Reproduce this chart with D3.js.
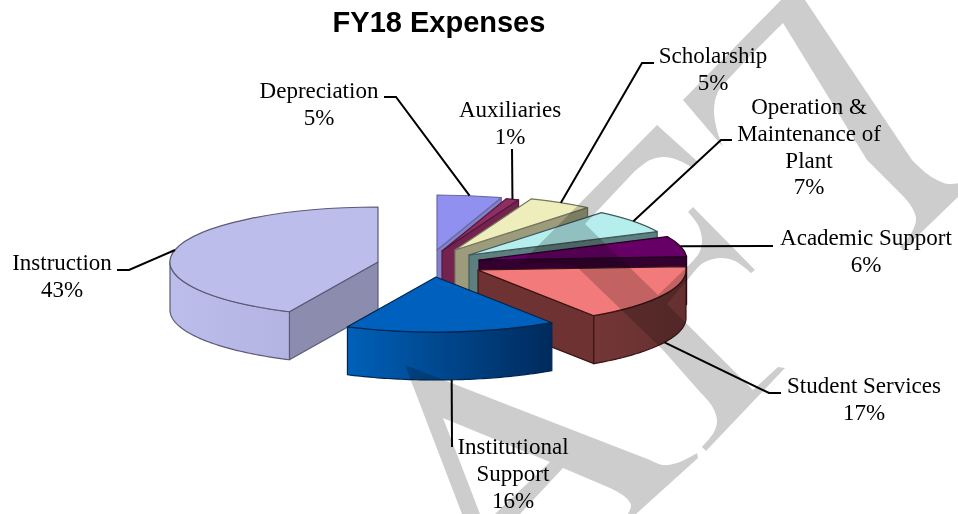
<!DOCTYPE html>
<html>
<head>
<meta charset="utf-8">
<script src="https://cdn.jsdelivr.net/npm/d3@7/dist/d3.min.js"></script>
<style>
html,body{margin:0;padding:0;background:#fff;}
svg{display:block;}
</style>
</head>
<body>
<svg id="chart" width="958" height="514"></svg>
<script>
// ---- data ----
const title = "FY18 Expenses";
const categories = ["Depreciation","Auxiliaries","Scholarship","Operation & Maintenance of Plant","Academic Support","Student Services","Institutional Support","Instruction"];
const values = [5,1,5,7,6,16.6,16.4,43];
const labelLines = [["Depreciation"],["Auxiliaries"],["Scholarship"],["Operation &","Maintenance of","Plant"],["Academic Support"],["Student Services"],["Institutional","Support"],["Instruction"]];

// ---- styles ----
const topColors  = ["#9090F0","#8E2E63","#EEEEBD","#B6EEEE","#660066","#F27A7A","#0060BE","#BDBDEC"];
const cutColors  = ["#8282CC","#74234F","#9C9C7C","#5E7F7F","#33002F","#6E3232","#003A78","#8C8CAE"];
const rimFrom    = ["#8282CC","#74234F","#9C9C7C","#5E7F7F","#33002F","#743636","#0060B8","#BDBDEC"];
const rimTo      = ["#8282CC","#74234F","#9C9C7C","#5E7F7F","#33002F","#663030","#002A5C","#B4B4E2"];
const edgeColors = ["#6A6AA0","#55183C","#77775C","#3F5A5A","#22001F","#3A1414","#00264E","#5A5A78"];

// ---- layout ----
const W = 958, H = 514, rx = 208, ry = 55, depth = 48;
const explodeX = [437,442,455,469,479,478,436,378];
const explodeY = [250,251,250,255,260,270,277,262];
const labelCx  = [319,510,713,809,866,864,513,62];
const labelTop = [98,117,63,114,245,393,454,270];
const lineGap  = 26.8;
// leader route: elbow points between the slice anchor and the label
const leaderVia = [[[396,97],[384,97]],[[512,149]],[[642,63],[654,63]],[[721,140],[732,140]],[[773,246]],[[769,393],[781,393]],[[452,447]],[[129,270],[117,270]]];

// ---- background watermark outlines: straight runs ("L") and smooth runs ("C") ----
const wmT = [
  ["L",[[805,0],[912,160]]],
  ["C",[[912,160],[926,173],[937,180],[948,184],[960,183]]],
  ["L",[[960,183],[960,195],[903,250],[900,247]]],
  ["C",[[900,247],[912,232],[916,218],[909,203],[900,193]]],
  ["L",[[900,193],[867,160],[783,23]]],
  ["C",[[783,23],[735,72],[718,92],[714,110],[717,130],[723,147]]],
  ["L",[[723,147],[683,100],[781,0]]]
];
const wmF = [
  ["L",[[657,125],[698,162],[693,168]]],
  ["C",[[693,168],[680,161],[665,157],[650,160],[633,173]]],
  ["L",[[633,173],[585,224],[658,295],[688,266]]],
  ["C",[[688,266],[699,253],[702,240],[698,225],[688,212]]],
  ["L",[[688,212],[693,207],[755,270],[751,273]]],
  ["C",[[751,273],[735,261],[720,258],[703,263],[690,277]]],
  ["L",[[690,277],[667,304],[753,390],[778,367],[785,368],[706,451],[702,447]]],
  ["C",[[702,447],[714,432],[717,420],[712,406],[700,392]]],
  ["L",[[700,392],[663,350],[577,267]]],
  ["C",[[577,267],[560,263],[540,263],[520,264]]],
  ["L",[[520,264],[657,125]]]
];
const wmA = [
  ["L",[[405,365],[650,460]]],
  ["C",[[650,460],[663,465],[677,463],[690,457],[697,453]]],
  ["L",[[697,453],[698,458],[636,514],[628,514]]],
  ["C",[[628,514],[631,505],[624,496],[610,488]]],
  ["L",[[610,488],[563,468],[520,514],[495,514],[550,462],[443,418],[480,514],[462,514],[405,365]]]
];

const svg = d3.select("#chart");
const defs = svg.append("defs");
const pie = d3.pie().sort(null).value(d => d).startAngle(0).endAngle(2*Math.PI);
const arcs = pie(values);
const xAt = (i,a) => explodeX[i] + rx*Math.sin(a);
const yAt = (i,a) => explodeY[i] - ry*Math.cos(a);
const line = d3.line();
const unitArc = d3.arc().innerRadius(0).outerRadius(1);

const gPie = svg.append("g");
// painter order: the large slice sits behind, the rest run clockwise to the front
const order = [7,0,1,2,3,4,5,6];
order.forEach(i => {
  const s = arcs[i], g = gPie.append("g");
  const edge = edgeColors[i];
  const ax = explodeX[i], ay = explodeY[i];
  // cut faces
  [[s.endAngle, Math.sin(s.endAngle) > 0.001],[s.startAngle, Math.sin(s.startAngle) < -0.001]].forEach(([a,show]) => {
    if(!show) return;
    g.append("path").attr("d", line([[ax,ay],[xAt(i,a),yAt(i,a)],[xAt(i,a),yAt(i,a)+depth],[ax,ay+depth]])+"Z")
      .attr("fill",cutColors[i]).attr("stroke",edge).attr("stroke-width",1.2).attr("stroke-linejoin","round");
  });
  // outer rim, only the part that faces the viewer
  const a0 = Math.max(s.startAngle, Math.PI/2), a1 = Math.min(s.endAngle, 3*Math.PI/2);
  if(a1 > a0){
    const id = "rim"+i;
    const gr = defs.append("linearGradient").attr("id",id).attr("x1",0).attr("x2",1).attr("y1",0).attr("y2",0);
    gr.append("stop").attr("offset",0).attr("stop-color",rimFrom[i]);
    gr.append("stop").attr("offset",1).attr("stop-color",rimTo[i]);
    const as = d3.range(0,61).map(k => a0 + (a1-a0)*k/60);
    const upper = as.map(a => [xAt(i,a),yAt(i,a)]);
    const lower = as.slice().reverse().map(a => [xAt(i,a),yAt(i,a)+depth]);
    g.append("path").attr("d", line(upper.concat(lower))+"Z").attr("fill","url(#"+id+")")
      .attr("stroke",edge).attr("stroke-width",1.2).attr("stroke-linejoin","round");
  }
  // top face
  g.append("path").attr("d", unitArc(s))
    .attr("transform",`translate(${ax},${ay}) scale(${rx},${ry})`)
    .attr("fill",topColors[i]).attr("stroke",edge).attr("stroke-width",1.2)
    .attr("vector-effect","non-scaling-stroke").attr("stroke-linejoin","round");
});

// watermark laid over the pie
const straight = d3.line();
const smooth = d3.line().curve(d3.curveCatmullRom.alpha(0.5));
const outline = runs => runs.map((r,k) => {
  const d = (r[0] === "C" ? smooth : straight)(r[1]);
  return k === 0 ? d : "L" + d.slice(1);
}).join("") + "Z";
svg.append("g").style("mix-blend-mode","multiply").selectAll("path")
  .data([wmA,wmF,wmT]).join("path")
  .attr("d", outline)
  .attr("fill","#cdcdcd");

// leaders and labels
const gLab = svg.append("g");
arcs.forEach((s,i) => {
  const mid = (s.startAngle+s.endAngle)/2;
  const front = Math.cos(mid) < 0;
  const anchor = [xAt(i,mid), yAt(i,mid)+(front?depth:0)];
  gLab.append("path").attr("d", line([anchor].concat(leaderVia[i])))
    .attr("fill","none").attr("stroke","#000").attr("stroke-width",2);
  const lines = labelLines[i].concat([Math.round(s.value)+"%"]);
  const t = gLab.append("text").attr("text-anchor","middle")
    .attr("font-family","'Liberation Serif','Times New Roman',serif").attr("font-size",23).attr("fill","#000");
  lines.forEach((txt,k) => t.append("tspan").attr("x",labelCx[i]).attr("y",labelTop[i]+k*lineGap).text(txt));
});

svg.append("text").attr("x",439).attr("y",32).attr("text-anchor","middle")
  .attr("font-family","'Liberation Sans',Arial,sans-serif").attr("font-weight","bold").attr("font-size",29)
  .attr("fill","#000").text(title);
</script>
</body>
</html>
